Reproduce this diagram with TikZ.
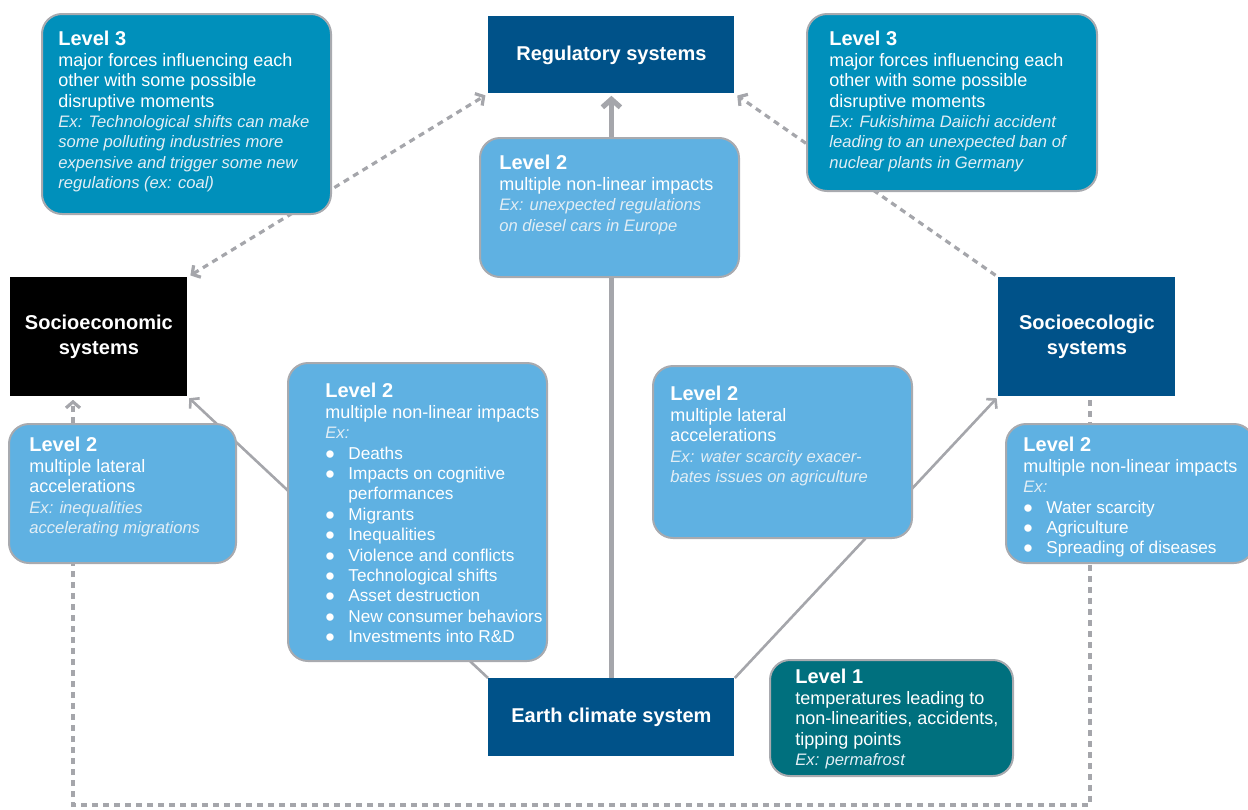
\documentclass[tikz,border=0pt]{standalone}
\usepackage{fontspec}
\setmainfont{Liberation Sans}
\usetikzlibrary{arrows.meta}

\definecolor{sysblue}{RGB}{0,82,137}
\definecolor{lvlthree}{RGB}{0,144,187}
\definecolor{lvltwo}{RGB}{95,177,226}
\definecolor{lvlone}{RGB}{0,112,126}
\definecolor{linkgray}{RGB}{165,166,171}
\definecolor{boxline}{RGB}{168,170,175}
\definecolor{excol}{RGB}{226,238,245}

\newcommand{\lvltitle}[1]{{\fontsize{10}{10.2}\selectfont\bfseries #1}}
\newcommand{\exline}[1]{{\fontsize{8.3}{10.2}\selectfont\itshape\color{excol}#1}}
\newcommand{\bul}[1]{\makebox[11.5pt][l]{\raisebox{-2pt}{\scalebox{1.5}{\textbullet}}}{\fontsize{8.6}{10.2}\selectfont#1}}

\begin{document}
\begin{tikzpicture}[x=0.5pt,y=-0.5pt,
  sys/.style={fill=sysblue, text=white, font=\fontsize{10}{12.5}\selectfont\bfseries,
    align=center, anchor=north west, inner sep=0pt},
  lvl/.style={draw=boxline, line width=1pt, rounded corners=10pt, anchor=north west, inner sep=0pt},
  txt/.style={anchor=north west, inner sep=0pt, align=left, text=white,
    font=\fontsize{9}{10.2}\selectfont},
  link/.style={draw=linkgray, line width=1.3pt, shorten >=1pt,
    -{Straight Barb[length=3pt,width=7pt]}},
  dlink/.style={draw=linkgray, line width=1.6pt, dash pattern=on 3pt off 2.5pt, shorten >=1.5pt, shorten <=1.5pt}]

\useasboundingbox (0,0) rectangle (1248,809);

% define the systems
  \node[sys, minimum width=123pt, minimum height=38.5pt] (reg) at (488,16) {Regulatory systems};
  \node[sys, fill=black, minimum width=88.5pt, minimum height=59.5pt] (socec) at (10,277) {Socioeconomic\\systems};
  \node[sys, minimum width=88.5pt, minimum height=59.5pt] (soceco) at (998,277) {Socioecologic\\systems};
  \node[sys, minimum width=123pt, minimum height=39pt] (earth) at (488,678) {Earth climate system};
  \coordinate (bot) at (600,805);

% define the links
  \draw[link, line width=2.6pt, -{Straight Barb[length=4pt,width=9pt]}] (earth.north) -- (reg.south);
  \draw[link] (earth.north west) -- (socec.south east);
  \draw[link] (earth.north east) -- (soceco.south west);
  \draw[dlink, {Straight Barb[length=3pt,width=7pt]}-{Straight Barb[length=3pt,width=7pt]}] (socec.north east) -- (reg.south west);
  \draw[dlink, -{Straight Barb[length=3pt,width=7pt]}] (soceco.north west) -- (reg.south east);
  \draw[dlink, -{Straight Barb[length=3pt,width=7pt]}] ([xshift=46pt]soceco.south west) |- (bot) -| ([xshift=31.5pt]socec.south west);

% define the levels
  \node[lvl, fill=lvlthree, minimum width=144.5pt, minimum height=100pt] (l3a) at (41,13) {};
  \node[txt] (l3atext) at (58,31) {\lvltitle{Level 3}\\
    major forces influencing each\\ other with some possible\\ disruptive moments\\
    \exline{Ex: Technological shifts can make}\\ \exline{some polluting industries more}\\
    \exline{expensive and trigger some new}\\ \exline{regulations (ex: coal)}};

  \node[lvl, fill=lvlthree, minimum width=145pt, minimum height=88.5pt] (l3b) at (806,13) {};
  \node[txt] (l3btext) at (829,31) {\lvltitle{Level 3}\\
    major forces influencing each\\ other with some possible\\ disruptive moments\\
    \exline{Ex: Fukishima Daiichi accident}\\ \exline{leading to an unexpected ban of}\\
    \exline{nuclear plants in Germany}};

  \node[lvl, fill=lvltwo, minimum width=129.5pt, minimum height=69.5pt] (l2c) at (479,137) {};
  \node[txt] (l2ctext) at (499,155) {\lvltitle{Level 2}\\
    multiple non-linear impacts\\
    \exline{Ex: unexpected regulations}\\ \exline{on diesel cars in Europe}};

  \node[lvl, fill=lvltwo, minimum width=113.5pt, minimum height=69.5pt] (l2a) at (8,423) {};
  \node[txt] (l2atext) at (29,437) {\lvltitle{Level 2}\\
    multiple lateral\\ accelerations\\
    \exline{Ex: inequalities}\\ \exline{accelerating migrations}};

  \node[lvl, fill=lvltwo, minimum width=129.5pt, minimum height=149pt] (l2m) at (287,362) {};
  \node[txt] (l2mtext) at (325,383) {\lvltitle{Level 2}\\
    multiple non-linear impacts\\ \exline{Ex:}\\
    \bul{Deaths}\\ \bul{Impacts on cognitive}\\ \hspace*{11.5pt}{\fontsize{8.6}{10.2}\selectfont performances}\\
    \bul{Migrants}\\ \bul{Inequalities}\\ \bul{Violence and conflicts}\\
    \bul{Technological shifts}\\ \bul{Asset destruction}\\
    \bul{New consumer behaviors}\\ \bul{Investments into R\&D}};

  \node[lvl, fill=lvltwo, minimum width=129.5pt, minimum height=86pt] (l2r) at (652,365) {};
  \node[txt] (l2rtext) at (670,386) {\lvltitle{Level 2}\\
    multiple lateral\\ accelerations\\
    \exline{Ex: water scarcity exacer-}\\ \exline{bates issues on agriculture}};

  \node[lvl, fill=lvltwo, minimum width=124pt, minimum height=69.5pt] (l2e) at (1005,423) {};
  \node[txt] (l2etext) at (1023,437) {\lvltitle{Level 2}\\
    multiple non-linear impacts\\ \exline{Ex:}\\
    \bul{Water scarcity}\\ \bul{Agriculture}\\ \bul{Spreading of diseases}};

  \node[lvl, fill=lvlone, minimum width=121.5pt, minimum height=58pt] (l1) at (769,659) {};
  \node[txt] (l1text) at (795,669) {\lvltitle{Level 1}\\
    temperatures leading to\\ non-linearities, accidents,\\ tipping points\\
    \exline{Ex: permafrost}};

\end{tikzpicture}
\end{document}
